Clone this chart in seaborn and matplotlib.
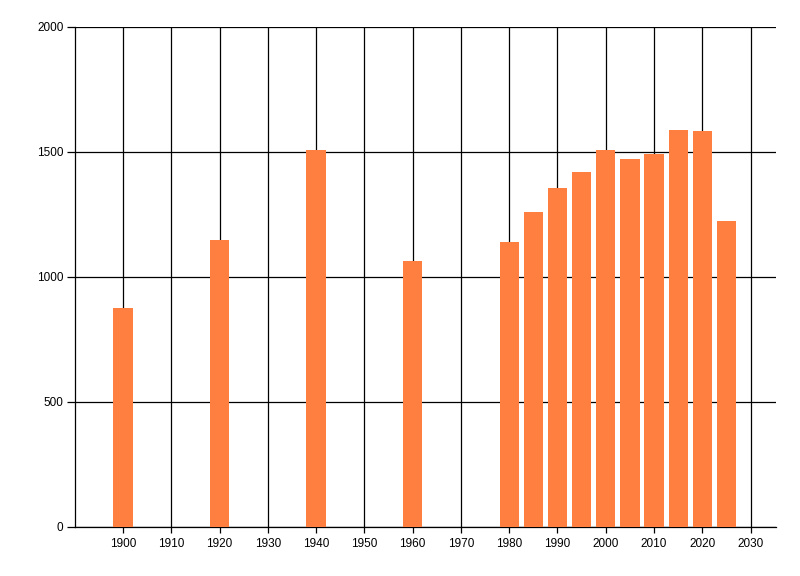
import matplotlib
matplotlib.use('Agg')
import matplotlib.pyplot as plt
import seaborn as sns
import pandas as pd

years = [1900, 1920, 1940, 1960, 1980, 1985, 1990, 1995, 2000, 2005, 2010, 2015, 2020, 2025]
values = [875, 1148, 1505, 1064, 1140, 1257, 1353, 1418, 1505, 1469, 1490, 1585, 1581, 1221]
x_ticks = list(range(1900, 2031, 10))
y_ticks = [0, 500, 1000, 1500, 2000]

df = pd.DataFrame({'year': years, 'value': values})

sns.set_style('white')
plt.rcParams['font.family'] = ['Liberation Sans', 'DejaVu Sans']

fig = plt.figure(figsize=(8, 5.76), dpi=100)
ax = fig.add_axes([0.0934, 0.0859, 0.8762, 0.8677])

sns.barplot(data=df, x='year', y='value', native_scale=True, width=0.8,
            color='#FF7F40', saturation=1, linewidth=0, ax=ax, zorder=3)

ax.set_xlim(1890, 2035.2)
ax.set_ylim(0, 2000)
ax.set_xticks(x_ticks)
ax.set_yticks(y_ticks)
ax.set_xticklabels([str(t) for t in x_ticks])
ax.set_yticklabels([str(t) for t in y_ticks])
ax.grid(True, color='black', linewidth=0.9)
ax.set_axisbelow(True)
ax.set_xlabel('')
ax.set_ylabel('')

for side in ['top', 'right']:
    ax.spines[side].set_visible(False)
for side in ['left', 'bottom']:
    ax.spines[side].set_color('black')
    ax.spines[side].set_linewidth(0.9)

ax.tick_params(axis='both', which='both', width=0.9, color='black',
               labelsize=8.5, labelcolor='black', bottom=True, left=True)
ax.tick_params(axis='x', length=4, pad=4)
ax.tick_params(axis='y', length=6, pad=2)

fig.savefig('out.png', dpi=100, facecolor='white')
